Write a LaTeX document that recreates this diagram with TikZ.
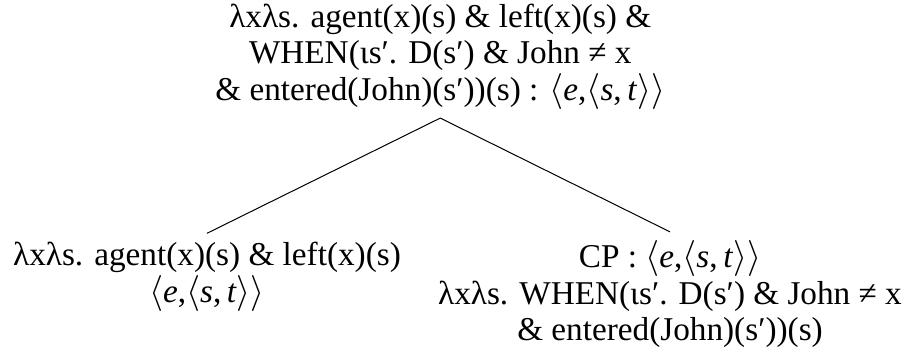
\documentclass[tikz,border=0pt]{standalone}
\usepackage{fontspec}
\setmainfont{Liberation Serif}
\usepackage{tikz}
\usetikzlibrary{positioning}

\newcommand{\estype}{$\langle$\textit{e},$\langle$\textit{s},\,\textit{t}$\rangle\rangle$}

\begin{document}
\begin{tikzpicture}[
  sem/.style={align=center, font=\fontsize{13.3}{14.6}\selectfont},
  edge/.style={draw=black, line width=0.4pt},
]
  \useasboundingbox (0,0) rectangle (12.85,-4.88);

  \node[sem, anchor=south] (vp) at (6.19,-1.66)
    {λxλs. agent(x)(s) \& left(x)(s) \&\\
     WHEN(ιs′. D(s′) \& John ≠ x\\
     \& entered(John)(s′))(s) : \estype};

  \node[sem, anchor=north] (left) at (2.91,-3.28)
    {λxλs. agent(x)(s) \& left(x)(s)\\
     \estype};

  \node[sem, anchor=north] (cp) at (9.42,-3.26)
    {CP : \estype\\
     λxλs. WHEN(ιs′. D(s′) \& John ≠ x\\
     \& entered(John)(s′))(s)};

  % Edges
  \draw[edge] (vp.south) -- (left.north);
  \draw[edge] (vp.south) -- (cp.north);
\end{tikzpicture}
\end{document}
